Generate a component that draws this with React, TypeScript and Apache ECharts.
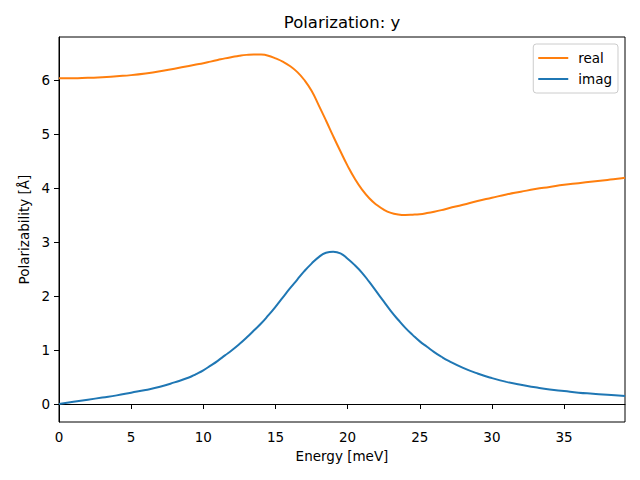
import React, { useEffect, useRef } from "react";
import * as echarts from "echarts";

const energy = [
  0, 1, 2, 3, 4, 5, 6, 7, 8,
  9, 9.5, 10, 10.5, 11, 11.5, 12, 12.5, 13, 13.5, 14, 14.5, 15, 15.5, 16, 16.5,
  17, 17.5, 18, 18.5, 19, 19.5, 20, 20.5, 21, 21.5, 22, 22.5, 23, 23.5, 24, 24.5,
  25, 25.5, 26, 26.5, 27,
  28, 29, 30, 31, 32, 33, 34, 35, 36, 37, 38, 39, 39.22,
];
const realValues = [
  6.03, 6.03, 6.04, 6.05, 6.07, 6.09, 6.12, 6.16, 6.21,
  6.26, 6.285, 6.31, 6.34, 6.37, 6.4, 6.425, 6.448, 6.465, 6.473, 6.47, 6.45,
  6.4, 6.34, 6.26, 6.15, 6.0, 5.8, 5.53, 5.25, 4.96, 4.68, 4.41, 4.17, 3.97,
  3.81, 3.69, 3.6, 3.54, 3.51, 3.5, 3.505, 3.515, 3.535, 3.56, 3.59, 3.625,
  3.69, 3.76, 3.82, 3.88, 3.93, 3.98, 4.02, 4.06, 4.09, 4.12, 4.15, 4.18, 4.19,
];
const imagValues = [
  0, 0.04, 0.08, 0.12, 0.16, 0.21, 0.26, 0.32, 0.4,
  0.49, 0.555, 0.625, 0.71, 0.8, 0.9, 1.0, 1.11, 1.23, 1.36, 1.49, 1.64, 1.8,
  1.97, 2.14, 2.3, 2.46, 2.6, 2.72, 2.8, 2.82, 2.79, 2.69, 2.57, 2.43, 2.26,
  2.08, 1.9, 1.72, 1.56, 1.41, 1.28, 1.16, 1.06, 0.96, 0.875, 0.8,
  0.67, 0.565, 0.48, 0.41, 0.355, 0.31, 0.27, 0.24, 0.21, 0.19, 0.17, 0.155, 0.15,
];
const xRange = [0, 39.22];
const yRange = [-0.333, 6.796];

const FONT = "DejaVu Sans";

export default function App() {
  const ref = useRef<HTMLDivElement>(null);
  useEffect(() => {
    if (!ref.current) return;
    const chart = echarts.init(ref.current, undefined, { renderer: "svg" });
    const realData = energy.map((e, i) => [e, realValues[i]]);
    const imagData = energy.map((e, i) => [e, imagValues[i]]);
    chart.setOption({
      animation: false,
      backgroundColor: "#ffffff",
      textStyle: { fontFamily: FONT },
      title: {
        text: "Polarization: y",
        left: 342,
        top: 14,
        padding: 0,
        textAlign: "center",
        textStyle: { fontFamily: FONT, fontSize: 16.5, fontWeight: "normal", color: "#000" },
      },
      legend: {
        orient: "vertical",
        right: 22,
        top: 44,
        padding: [6, 6, 6, 5],
        itemGap: 5,
        itemWidth: 30,
        itemHeight: 2,
        icon: "rect",
        borderColor: "#cccccc",
        borderWidth: 1,
        borderRadius: 3,
        backgroundColor: "rgba(255,255,255,0.8)",
        textStyle: { fontFamily: FONT, fontSize: 13.5, color: "#000", lineHeight: 16, padding: [0, 0, 0, 5] },
        data: ["real", "imag"],
      },
      grid: {
        left: 59,
        right: 15,
        top: 37,
        bottom: 58,
        show: true,
        borderColor: "#000",
        borderWidth: 1,
        containLabel: false,
      },
      xAxis: {
        type: "value",
        min: xRange[0],
        max: xRange[1],
        interval: 5,
        name: "Energy [meV]",
        nameLocation: "middle",
        nameGap: 27,
        nameTextStyle: { fontFamily: FONT, fontSize: 13.5, color: "#000" },
        axisLine: { show: true, lineStyle: { color: "#000", width: 1 } },
        axisTick: { show: true, length: 5, lineStyle: { color: "#000" } },
        axisLabel: {
          fontFamily: FONT,
          fontSize: 13.5,
          color: "#000",
          margin: 8,
          showMaxLabel: false,
        },
        splitLine: { show: false },
      },
      yAxis: {
        type: "value",
        min: yRange[0],
        max: yRange[1],
        splitNumber: 7,
        name: "Polarizability [Å]",
        nameLocation: "middle",
        nameGap: 26,
        nameTextStyle: { fontFamily: FONT, fontSize: 13.5, color: "#000" },
        axisLine: { show: true, lineStyle: { color: "#000", width: 1 } },
        axisTick: { show: true, length: 5, lineStyle: { color: "#000" } },
        axisLabel: {
          fontFamily: FONT,
          fontSize: 13.5,
          color: "#000",
          margin: 9,
          showMinLabel: false,
          showMaxLabel: false,
        },
        splitLine: { show: false },
      },
      series: [
        {
          name: "real",
          type: "line",
          data: realData,
          showSymbol: false,
          smooth: 0.5,
          lineStyle: { color: "#ff7f0e", width: 2 },
          itemStyle: { color: "#ff7f0e" },
        },
        {
          name: "imag",
          type: "line",
          data: imagData,
          showSymbol: false,
          smooth: 0.5,
          lineStyle: { color: "#1f77b4", width: 2 },
          itemStyle: { color: "#1f77b4" },
        },
      ],
    });
    return () => chart.dispose();
  }, []);
  return (
    <div
      ref={ref}
      style={{ position: "absolute", left: 0, top: 0, width: 640, height: 480 }}
    />
  );
}
